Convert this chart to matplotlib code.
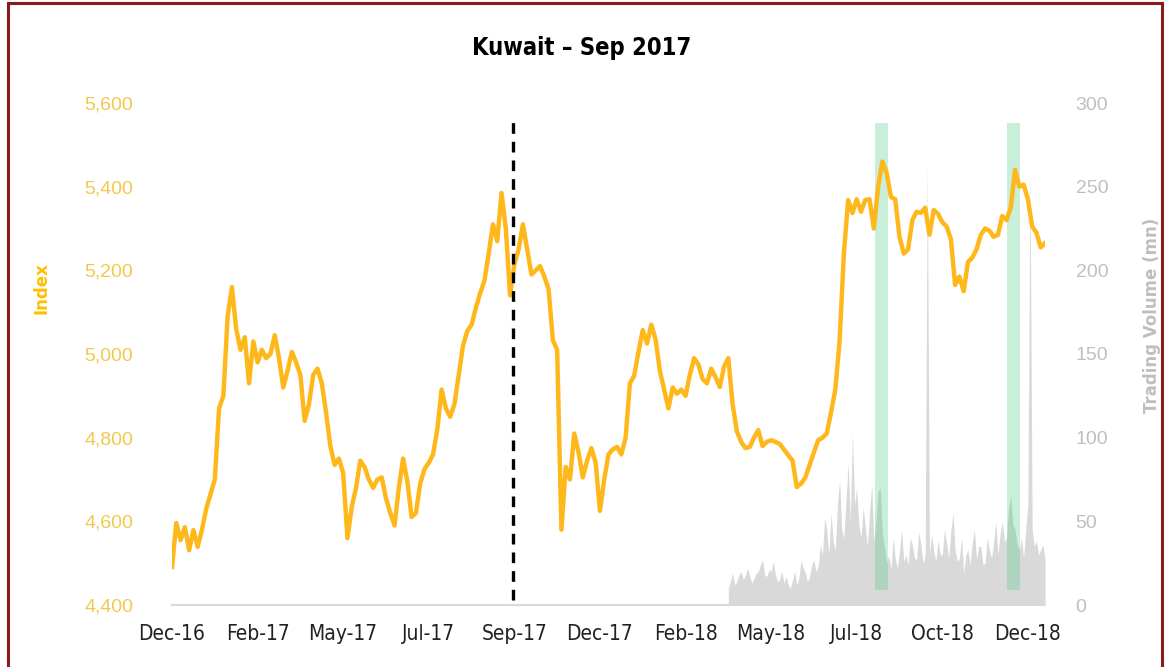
import matplotlib.pyplot as plt
from matplotlib.patches import Rectangle

# Kuwait index (points, one every ~2.5 trading days) from Dec-16 to Dec-18
index_vals = [
    4491, 4596, 4555, 4586, 4531, 4579, 4539, 4580, 4630, 4665,
    4700, 4870, 4900, 5090, 5160, 5060, 5010, 5040, 4930, 5030,
    4980, 5010, 4990, 5000, 5045, 4990, 4920, 4960, 5005, 4980,
    4950, 4840, 4880, 4950, 4965, 4930, 4860, 4780, 4735, 4750,
    4715, 4560, 4634, 4680, 4745, 4730, 4700, 4680, 4700, 4705,
    4655, 4620, 4590, 4680, 4750, 4695, 4610, 4620, 4690, 4725,
    4740, 4760, 4820, 4915, 4870, 4850, 4880, 4950, 5020, 5055,
    5070, 5110, 5145, 5175, 5240, 5310, 5270, 5385, 5300, 5140,
    5215, 5250, 5310, 5250, 5190, 5200, 5210, 5185, 5155, 5033,
    5010, 4580, 4730, 4700, 4810, 4765, 4705, 4745, 4775, 4740,
    4625, 4700, 4760, 4772, 4778, 4760, 4800, 4930, 4948, 5005,
    5057, 5025, 5070, 5035, 4960, 4915, 4870, 4920, 4905, 4915,
    4900, 4950, 4990, 4975, 4940, 4930, 4965, 4945, 4921, 4970,
    4990, 4880, 4815, 4790, 4775, 4778, 4800, 4818, 4780, 4790,
    4794, 4790, 4785, 4772, 4758, 4745, 4682, 4690, 4705, 4735,
    4765, 4794, 4800, 4810, 4860, 4915, 5030, 5240, 5368, 5337,
    5370, 5340, 5368, 5370, 5300, 5399, 5460, 5433, 5375, 5370,
    5280, 5240, 5250, 5320, 5340, 5337, 5350, 5285, 5344, 5335,
    5315, 5305, 5275, 5165, 5185, 5150, 5220, 5230, 5250, 5285,
    5300, 5295, 5280, 5285, 5330, 5320, 5350, 5440, 5400, 5405,
    5370, 5305, 5290, 5255, 5265,
]

# trading volume (mn), available from May-18 onwards, two readings per index step
vol_start = 130
volume_vals = [
    10, 14, 19, 12, 14, 18, 20, 15, 18, 22,
    17, 13, 16, 19, 20, 24, 27, 18, 17, 21,
    20, 26, 18, 14, 15, 20, 13, 17, 12, 10,
    15, 20, 12, 16, 27, 22, 19, 14, 17, 24,
    27, 20, 23, 36, 30, 52, 45, 30, 55, 38,
    33, 60, 75, 45, 40, 62, 85, 50, 103, 60,
    70, 48, 40, 58, 47, 35, 55, 72, 38, 50,
    68, 70, 42, 35, 25, 30, 21, 40, 28, 22,
    32, 45, 26, 30, 24, 40, 36, 28, 27, 44,
    36, 25, 30, 265, 30, 42, 32, 26, 39, 30,
    30, 45, 37, 28, 44, 55, 33, 26, 28, 40,
    19, 30, 33, 24, 37, 45, 27, 35, 35, 24,
    25, 40, 33, 28, 37, 50, 30, 42, 50, 38,
    40, 58, 65, 48, 45, 36, 33, 40, 28, 45,
    60, 260, 45, 35, 38, 30, 33, 36, 27,
]

tick_labels = ["Dec-16", "Feb-17", "May-17", "Jul-17", "Sep-17", "Dec-17",
               "Feb-18", "May-18", "Jul-18", "Oct-18", "Dec-18"]
tick_step = 20

event_x = 79.6                       # Sep 2017
bands = [(164.3, 167.3), (195.1, 198.1)]

x_idx = list(range(len(index_vals)))
x_vol = [vol_start + 0.5 * k for k in range(len(volume_vals))]

gold = "#FFB81C"
gold_txt = "#F2C94C"
grey_txt = "#BFBFBF"

fig = plt.figure(figsize=(11.65, 6.67), dpi=100)
fig.patches.append(Rectangle((8 / 1165, -0.05), 1154 / 1165, 1.0 - 3 / 667 + 0.05,
                             transform=fig.transFigure, fill=False,
                             edgecolor="#8B1A1A", lw=2.2))

ax = fig.add_axes([172 / 1165, 1 - 605 / 667, 873 / 1165, 502 / 667])
axv = ax.twinx()
ax.set_zorder(axv.get_zorder() + 1)
ax.patch.set_visible(False)

axv.fill_between(x_vol, volume_vals, 0, color="#D9D9D9", lw=0)
ax.plot(x_idx, index_vals, color=gold, lw=3.2, solid_joinstyle="round")
ax.axvline(event_x, ymin=0.01, ymax=0.976, color="black", lw=2.4, dashes=(3.2, 2.4))
for a, b in bands:
    ax.axvspan(a, b, ymin=0.03, ymax=0.96, color="#4CC985", alpha=0.3, lw=0)

ax.set_xlim(0, len(index_vals) - 1)
ax.set_ylim(4400, 5600)
axv.set_ylim(0, 300)

ax.set_xticks(range(0, tick_step * len(tick_labels), tick_step))
ax.set_xticklabels(tick_labels, fontsize=15, fontstretch="condensed", color="#222222")
ax.set_yticks(range(4400, 5601, 200))
ax.set_yticklabels([f"{v:,}" for v in range(4400, 5601, 200)],
                   fontsize=14, color=gold_txt, family="Liberation Sans")
axv.set_yticks(range(0, 301, 50))
axv.set_yticklabels([str(v) for v in range(0, 301, 50)],
                    fontsize=14, color=grey_txt, family="Liberation Sans")

ax.tick_params(axis="x", length=0, pad=14)
ax.tick_params(axis="y", length=0, pad=28)
axv.tick_params(axis="y", length=0, pad=22)

for s in ["top", "left", "right"]:
    ax.spines[s].set_visible(False)
for s in axv.spines.values():
    s.set_visible(False)
ax.spines["bottom"].set_color("#D9D9D9")
ax.spines["bottom"].set_linewidth(1.5)

fig.text(42 / 1165, 1 - 288 / 667, "Index", rotation=90, ha="center", va="center",
         fontsize=12, fontweight="bold", color="#FFC000")
fig.text(1152 / 1165, 1 - 315 / 667, "Trading Volume (mn)", rotation=90,
         ha="center", va="center", fontsize=12, fontweight="bold", color=grey_txt)
fig.text(582 / 1165, 1 - 48 / 667, "Kuwait \u2013 Sep 2017", ha="center", va="center",
         fontsize=17, fontweight="bold", fontstretch="condensed", color="black")

fig.savefig("out.png", dpi=100)
